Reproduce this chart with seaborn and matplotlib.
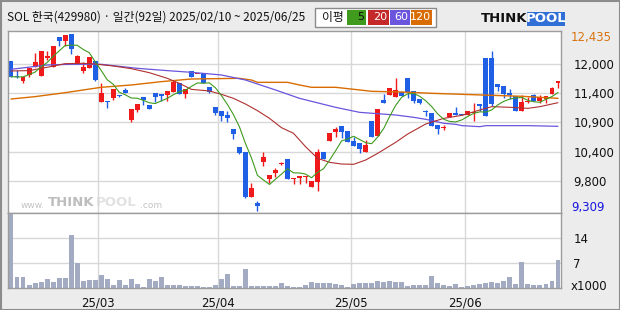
import numpy as np
import pandas as pd
import matplotlib
matplotlib.use("Agg")
import matplotlib.pyplot as plt
from matplotlib.patches import Rectangle
import seaborn as sns

# ---------------- data ----------------
title = "SOL 한국(429980) · 일간(92일) 2025/02/10 ~ 2025/06/25"
legend_label = "이평"
ma_names = ["5", "20", "60", "120"]

opens = [11960, 11690, 11610, 11715, 11855, 11700, 12015, 11855, 12375, 12310,
         12435, 11930, 11780, 11840, 11960, 11240, 11255, 11295, 11355, 11445,
         10915, 11090, 11315, 11180, 11390, 11375, 11350, 11410, 11575, 11380,
         11780, 11720, 11750, 11505, 11150, 11075, 11000, 10755, 10435, 10350,
         9560, 9450, 10165, 9870, 9980, 10140, 10225, 9875, 9895, 9900,
         9735, 9825, 10350, 10550, 10695, 10810, 10720, 10540, 10515, 10355,
         10895, 10635, 11270, 11355, 11325, 11410, 11650, 11425, 11285, 11060,
         11030, 10820, 10770, 10960, 11030, 11020, 11000, 11045, 11190, 12010,
         12010, 11545, 11515, 11395, 11340, 11080, 11225, 11355, 11250, 11285,
         11375, 11575]
highs = [11960, 11800, 11680, 11835, 12105, 12140, 12135, 12230, 12375, 12420,
         12435, 12065, 11945, 12035, 11960, 11565, 11255, 11455, 11360, 11475,
         11110, 11205, 11315, 11180, 11390, 11375, 11425, 11620, 11575, 11460,
         11780, 11735, 11750, 11505, 11150, 11075, 11075, 10755, 10435, 10350,
         9795, 9485, 10350, 9935, 10060, 10175, 10225, 9895, 9925, 9930,
         9835, 10400, 10350, 10680, 10785, 10810, 10720, 10605, 10515, 10560,
         10895, 11110, 11375, 11475, 11650, 11410, 11650, 11425, 11285, 11090,
         11030, 10820, 10820, 11030, 11140, 11020, 11065, 11220, 11190, 12010,
         12135, 11545, 11515, 11455, 11340, 11350, 11325, 11375, 11350, 11340,
         11505, 11605]
lows = [11680, 11665, 11565, 11680, 11855, 11700, 11975, 11855, 12230, 12225,
        12075, 11915, 11740, 11840, 11610, 11240, 11130, 11270, 11325, 11385,
        10880, 11060, 11180, 11115, 11240, 11250, 11250, 11410, 11380, 11305,
        11680, 11720, 11565, 11385, 11000, 10900, 10885, 10580, 10310, 9530,
        9560, 9309, 10105, 9805, 9900, 10120, 9875, 9780, 9780, 9805,
        9735, 9665, 10225, 10550, 10620, 10590, 10530, 10460, 10335, 10355,
        10620, 10635, 11220, 11355, 11325, 11340, 11310, 11220, 11195, 10990,
        10815, 10670, 10730, 10960, 11010, 10995, 11000, 10900, 11075, 10990,
        11160, 11425, 11310, 11280, 11080, 11080, 11210, 11250, 11220, 11210,
        11375, 11485]
closes = [11680, 11670, 11680, 11835, 11940, 12140, 12050, 12230, 12315, 12420,
          12170, 12050, 11855, 12035, 11620, 11395, 11225, 11455, 11330, 11395,
          11110, 11205, 11270, 11115, 11325, 11345, 11425, 11590, 11380, 11460,
          11680, 11735, 11565, 11415, 11030, 10985, 10955, 10665, 10335, 9560,
          9710, 9400, 10260, 9935, 10030, 10160, 9875, 9895, 9925, 9930,
          9835, 10350, 10225, 10680, 10755, 10705, 10530, 10460, 10395, 10470,
          10620, 11110, 11220, 11475, 11440, 11340, 11405, 11255, 11220, 11050,
          10815, 10760, 10785, 11030, 11010, 10995, 11065, 11060, 11160, 10990,
          11195, 11505, 11375, 11360, 11080, 11240, 11250, 11250, 11320, 11340,
          11485, 11605]
volume_k = [20.8, 3.1, 3.1, 0.8, 1.3, 1.5, 2.6, 1.5, 2.8, 2.8,
            15.1, 6.9, 2.0, 2.2, 2.3, 3.7, 2.6, 0.8, 2.3, 0.8,
            2.6, 1.0, 0.3, 2.6, 2.0, 3.1, 0.9, 0.9, 0.7, 0.6,
            0.5, 0.4, 0.3, 0.3, 0.8, 2.6, 4.0, 0.6, 0.6, 5.4,
            0.6, 0.6, 0.4, 0.6, 0.6, 1.3, 0.6, 0.3, 0.3, 0.9,
            1.7, 1.2, 1.2, 1.4, 1.0, 0.8, 0.3, 0.95, 1.3, 1.2,
            1.2, 2.0, 1.6, 1.9, 1.7, 1.7, 0.6, 0.8, 0.8, 0.9,
            3.4, 1.4, 0.8, 0.6, 1.1, 0.3, 0.6, 0.8, 1.0, 1.4,
            1.5, 1.2, 2.0, 3.1, 1.0, 7.2, 1.0, 0.9, 0.9, 1.0,
            2.0, 8.0]

# moving averages (index, price)
ma20_idx = [0, 3, 6, 9, 12, 14, 17, 20, 23, 26, 28, 30, 33, 35, 37, 39, 41, 43, 45, 47,
            49, 51, 53, 55, 57, 59, 61, 64, 66, 69, 72, 75, 78, 80, 83, 86, 88, 91]
ma20_val = [11781, 11787, 11846, 11910, 11916, 11904, 11869, 11822, 11751, 11651,
            11563, 11456, 11427, 11368, 11297, 11197, 11079, 10943, 10778, 10678,
            10442, 10236, 10165, 10135, 10130, 10206, 10324, 10519, 10666, 10843,
            10943, 10996, 11091, 11150, 11138, 11120, 11150, 11220]
ma60_idx = [0, 6, 10, 15, 21, 26, 30, 35, 39, 44, 48, 54, 58, 64, 67, 69, 72, 74, 75, 78,
            79, 86, 91]
ma60_val = [11810, 11887, 11899, 11899, 11828, 11787, 11757, 11710, 11621, 11445,
            11297, 11138, 11049, 11002, 10961, 10926, 10855, 10837, 10814, 10796,
            10814, 10814, 10802]
ma120_idx = [0, 4, 9, 15, 20, 25, 30, 38, 40, 41, 46, 48, 50, 54, 58, 60, 65, 70, 75,
             80, 85, 91]
ma120_val = [11285, 11327, 11397, 11492, 11533, 11592, 11639, 11651, 11621, 11580,
             11580, 11533, 11492, 11492, 11445, 11421, 11409, 11386, 11368, 11350,
             11333, 11297]

month_labels = ["25/03", "25/04", "25/05", "25/06"]
month_first_idx = [15, 35, 57, 76]
price_tick_labels = ["12,000", "11,400", "10,900", "10,400", "9,800"]
vol_ticks = [7, 14]
vol_tick_labels = ["7", "14"]

# ---------------- style ----------------
sns.set_theme(style="white")
plt.rcParams["font.family"] = ["Noto Sans CJK KR", "DejaVu Sans"]

RED = "#F01A1A"
BLUE = "#1F5FE6"
C5, C20, C60, C120 = "#3F9A1E", "#B03030", "#6A55DC", "#D96C00"
VOLC = "#A3ABC3"
GRID = "#D8D8D8"
FRAME = "#9C9C9C"

W, H = 620, 310
def fx(x): return x / W
def fy(y): return 1 - y / H

L, R = 8, 561
T1, B1, B2 = 31, 212.7, 287.7

fig = plt.figure(figsize=(6.2, 3.1), dpi=100)
fig.patch.set_facecolor("#ECECEC")
ax = fig.add_axes([fx(L), fy(B1), (R - L) / W, (B1 - T1) / H])
axv = fig.add_axes([fx(L), fy(B2), (R - L) / W, (B2 - B1) / H], sharex=ax)

df = pd.DataFrame({"o": opens, "h": highs, "l": lows, "c": closes, "v": volume_k})
df["x"] = np.arange(len(df))
df["ma5"] = df["c"].rolling(5, min_periods=1).mean()
n = len(df)

ylo, yhi = 9274, 12488
ax.set_ylim(ylo, yhi)
ax.set_xlim(-0.5, n - 0.5)
grid_fracs = [0.8189, 0.6593, 0.4975, 0.3357, 0.1761]
grid_vals = [ylo + f * (yhi - ylo) for f in grid_fracs]

for a in (ax, axv):
    a.set_facecolor("white")
    a.set_xticks([m - 0.5 for m in month_first_idx])
    a.grid(True, color=GRID, lw=1)
    a.set_axisbelow(True)
    for s in a.spines.values():
        s.set_color(FRAME)
        s.set_linewidth(1)

ax.set_yticks(grid_vals)
ax.yaxis.tick_right()
ax.set_yticklabels(price_tick_labels, fontsize=8.5, color="#111111", family=["DejaVu Sans"])
ax.tick_params(axis="y", length=0, pad=9)
ax.tick_params(axis="x", length=0, labelbottom=False)

# watermark
ax.text(fx(21), fy(205.5), "www.", transform=fig.transFigure, fontsize=6.5, color="#C4C4C4",
        va="center", ha="left", family=["DejaVu Sans"], zorder=0.5)
ax.text(fx(48), fy(203), "THINK", transform=fig.transFigure, fontsize=9.5, color="#BDBDBD",
        va="center", ha="left", weight="bold", family=["DejaVu Sans"], zorder=0.5)
ax.text(fx(96), fy(203), "POOL", transform=fig.transFigure, fontsize=9.5, color="#E2E2E2",
        va="center", ha="left", weight="bold", family=["DejaVu Sans"], zorder=0.5)
ax.text(fx(140), fy(205.5), ".com", transform=fig.transFigure, fontsize=6.5, color="#C4C4C4",
        va="center", ha="left", family=["DejaVu Sans"], zorder=0.5)

# candles
up = df["c"] >= df["o"]
cols = np.where(up, RED, BLUE)
body_lo = np.minimum(df["o"], df["c"])
body_h = np.maximum(np.abs(df["c"] - df["o"]), 18)
ax.vlines(df["x"], df["l"], df["h"], colors=cols, lw=1, zorder=2)
ax.bar(df["x"], body_h, bottom=body_lo, width=0.82, color=cols, linewidth=0, zorder=2)

# moving averages
sns.lineplot(x=ma120_idx, y=ma120_val, ax=ax, color=C120, lw=1.0, estimator=None, zorder=3)
sns.lineplot(x=ma60_idx, y=ma60_val, ax=ax, color=C60, lw=0.9, estimator=None, zorder=3)
sns.lineplot(x=ma20_idx, y=ma20_val, ax=ax, color=C20, lw=0.8, estimator=None, zorder=3)
sns.lineplot(data=df, x="x", y="ma5", ax=ax, color=C5, lw=0.8, estimator=None, zorder=3)
ax.set_xlabel("")
ax.set_ylabel("")

# max / min labels
hi_v, lo_v = df["h"].max(), df["l"].min()
ax.text(fx(571), fy(37), f"{hi_v:,.0f}", transform=fig.transFigure, fontsize=8.5,
        color="#D9730D", va="center", ha="left", family=["DejaVu Sans"])
ax.text(fx(571), fy(207), f"{lo_v:,.0f}", transform=fig.transFigure, fontsize=8.5,
        color="#1515E0", va="center", ha="left", family=["DejaVu Sans"])

# volume
axv.bar(df["x"], df["v"], width=0.82, color=VOLC, linewidth=0, zorder=2)
axv.set_ylim(0, 21.3)
axv.set_yticks(vol_ticks)
axv.yaxis.tick_right()
axv.set_yticklabels(vol_tick_labels, fontsize=8.5, color="#111111", family=["DejaVu Sans"])
axv.tick_params(axis="y", length=0, pad=9)
axv.set_xticklabels(month_labels, fontsize=8.5, color="#111111", family=["DejaVu Sans"])
axv.tick_params(axis="x", length=0, pad=6)
axv.set_xlim(-0.5, n - 0.5)
fig.text(fx(571), fy(286), "x1000", fontsize=8.5, color="#111111", va="center", ha="left",
         family=["DejaVu Sans"])

# title
fig.text(fx(7), fy(17), title, fontsize=8.5, color="#111111", va="center", ha="left")

# MA legend box
fig.patches.append(Rectangle((fx(315), fy(27)), 121 / W, 19 / H, transform=fig.transFigure,
                             facecolor="white", edgecolor="#8A8A8A", lw=1))
fig.text(fx(322), fy(17.5), legend_label, fontsize=8.5, color="#111111", va="center", ha="left")
boxes = [(347, 19, C5, "#111111"), (368, 21, "#C42828", "white"),
         (390, 20, C60, "white"), (411, 21, C120, "white")]
for (bx, bw, bc, tc), name in zip(boxes, ma_names):
    fig.patches.append(Rectangle((fx(bx), fy(25)), bw / W, 15 / H, transform=fig.transFigure,
                                 facecolor=bc, edgecolor="none"))
    fig.text(fx(bx + bw - 1.5), fy(17.5), name, fontsize=8, color=tc, va="center", ha="right",
             family=["DejaVu Sans"])

# logo
fig.text(fx(481), fy(19), "THINK", fontsize=9.5, weight="bold", color="#111111",
         va="center", ha="left", family=["DejaVu Sans"])
fig.patches.append(Rectangle((fx(527), fy(26)), 38 / W, 14 / H, transform=fig.transFigure,
                             facecolor="#2F6FD6", edgecolor="none"))
fig.text(fx(546), fy(19), "POOL", fontsize=9.5, weight="bold", color="white",
         va="center", ha="center", family=["DejaVu Sans"])

# outer border
fig.patches.append(Rectangle((0.5 / W, 0.5 / H), 1 - 1 / W, 1 - 1 / H, transform=fig.transFigure,
                             facecolor="none", edgecolor="#8C8C8C", lw=1.5))

fig.savefig("out.png", dpi=100, facecolor=fig.get_facecolor())
